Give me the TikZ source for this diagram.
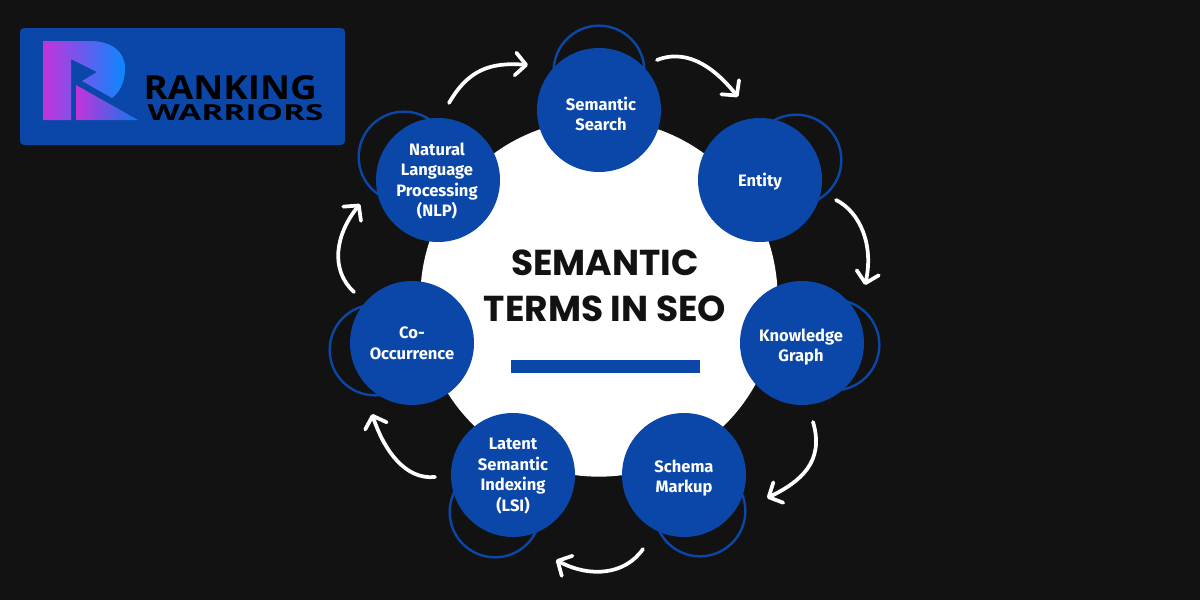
\documentclass[tikz,border=0pt]{standalone}
\usepackage{fontspec}
\setmainfont{Fira Sans}
\newfontfamily\logofont{Open Sans}
\newfontfamily\titlefont{Poppins}
\usetikzlibrary{arrows.meta}
\definecolor{bgdark}{RGB}{18,18,18}
\definecolor{seoblue}{RGB}{10,71,169}
\definecolor{logomag}{RGB}{196,50,220}
\definecolor{logoblue}{RGB}{10,135,255}
\tikzset{every picture/.style={line width=0.75pt}}
\tikzset{
  termdisc/.style={circle,fill=seoblue,minimum size=93pt,inner sep=0pt},
  termlabel/.style={inner sep=0pt,text=white,align=center,font=\fontsize{12.4}{15.4}\selectfont\bfseries},
  termring/.style={circle,draw=seoblue,line width=1.8pt,minimum size=68pt,inner sep=0pt},
  whitearrow/.style={draw=white,line width=2.8pt,line cap=round,-{Straight Barb[length=8pt,width=17pt,round]}}
}

\begin{document}
\begin{tikzpicture}[x=0.75pt,y=0.75pt,yscale=-1,xscale=1]
\useasboundingbox [fill=bgdark] (0,0) rectangle (1200,600);

%Shape: Rounded Rect
\fill [seoblue,rounded corners=3pt] (20,28) rectangle (345,145);
%Shape: Logo letter
\begin{scope}
\clip (43,41) -- (90,41) .. controls (112,41) and (125,52) .. (125,68) .. controls (125,82) and (120,92) .. (112,98) -- (82,81) -- (97,72) -- (71,59) -- (71,120) -- (43,120) -- cycle;
\shade [left color=logomag,right color=logoblue] (43,41) rectangle (125,120);
\end{scope}
\begin{scope}
\clip (76,85) -- (138,120) -- (76,120) -- cycle;
\shade [left color=logomag,right color=logoblue!80!seoblue] (76,85) rectangle (138,120);
\end{scope}
% Text Node
\node (ranking) [anchor=base west,inner sep=0pt,text=black,font=\logofont\bfseries] at (143,99) {\resizebox{130pt}{18pt}{RANKING}};
% Text Node
\node (warriors) [anchor=base west,inner sep=0pt,text=black,font=\logofont\bfseries] at (147,120) {\resizebox{132pt}{12pt}{WARRIORS}};

%Shape: Circle
\node (hub) [circle,fill=white,minimum size=268pt,inner sep=0pt] at (599,298) {};

%Shape: Circle
\node (ringsearch) [termring] at (599,71) {};
\node (ringentity) [termring] at (796,160) {};
\node (ringgraph) [termring] at (834,345) {};
\node (ringschema) [termring] at (700,511) {};
\node (ringlsi) [termring] at (495,512) {};
\node (ringco) [termring] at (375,350) {};
\node (ringnlp) [termring] at (404,157) {};

%Shape: Circle
\node (search) [termdisc] at (599,110) {};
\node (entity) [termdisc] at (760,180) {};
\node (graph) [termdisc] at (802,343) {};
\node (schema) [termdisc] at (684,475) {};
\node (lsi) [termdisc] at (513,475) {};
\node (co) [termdisc] at (412,343) {};
\node (nlp) [termdisc] at (438,180) {};

% Text Node
\node (searchtext) [termlabel] at (601,114) {Semantic\\Search};
\node (entitytext) [termlabel] at (760,182) {Entity};
\node (graphtext) [termlabel] at (801,347) {Knowledge\\Graph};
\node (schematext) [termlabel] at (684,478) {Schema\\Markup};
\node (lsitext) [termlabel] at (513,476) {Latent\\Semantic\\Indexing\\(LSI)};
\node (cotext) [termlabel] at (412,343) {Co-\\Occurrence};
\node (nlptext) [termlabel] at (437,181) {Natural\\Language\\Processing\\(NLP)};

% Text Node
\node (title) [align=center,text=bgdark,font=\titlefont\fontsize{27}{34.5}\selectfont\bfseries] at (605,286) {SEMANTIC\\TERMS IN SEO};
%Shape: Rectangle
\fill [seoblue] (511,360) rectangle (700,373);

%Curve Lines
\coordinate (nlpout) at (449,103);
\coordinate (searchin) at (528,65);
\coordinate (searchout) at (657,60);
\coordinate (entityin) at (738,97);
\coordinate (entityout) at (836,200);
\coordinate (graphin) at (865,285);
\coordinate (graphout) at (813,422);
\coordinate (schemain) at (767,498);
\coordinate (schemaout) at (643,549);
\coordinate (lsiin) at (556,560);
\coordinate (lsiout) at (435,477);
\coordinate (coin) at (372,414);
\coordinate (coout) at (354,292);
\coordinate (nlpin) at (360,204);
\draw [whitearrow] (nlpout) .. controls (468,70) and (490,62) .. (searchin);
\draw [whitearrow] (searchout) .. controls (690,47) and (718,72) .. (entityin);
\draw [whitearrow] (entityout) .. controls (860,212) and (874,245) .. (graphin);
\draw [whitearrow] (graphout) .. controls (825,462) and (800,482) .. (schemain);
\draw [whitearrow] (schemaout) .. controls (625,575) and (590,578) .. (lsiin);
\draw [whitearrow] (lsiout) .. controls (405,480) and (384,450) .. (coin);
\draw [whitearrow] (coout) .. controls (330,270) and (335,235) .. (nlpin);

\end{tikzpicture}
\end{document}
